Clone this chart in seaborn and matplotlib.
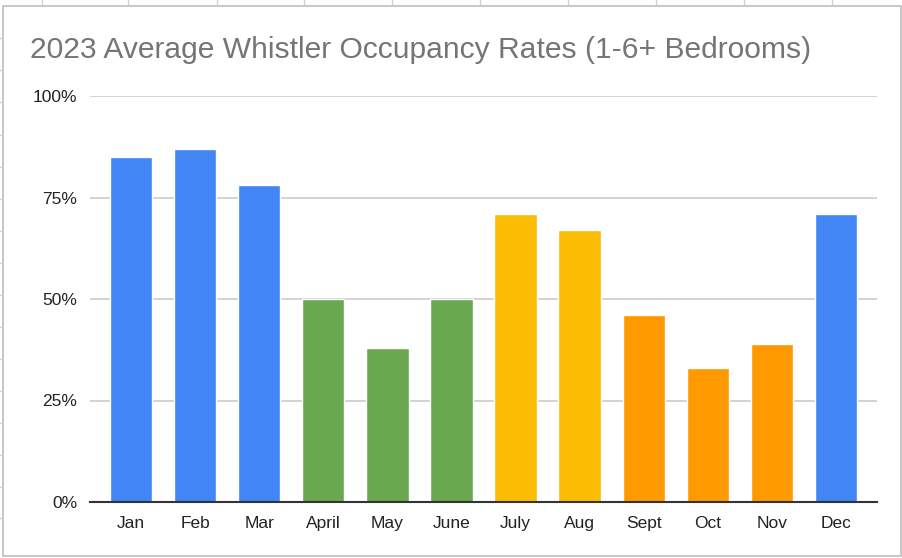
import numpy as np
import pandas as pd
import matplotlib
matplotlib.use("Agg")
import matplotlib.pyplot as plt
import seaborn as sb
from matplotlib.lines import Line2D
from matplotlib.patches import Rectangle

months = ["Jan", "Feb", "Mar", "April", "May", "June", "July", "Aug", "Sept", "Oct", "Nov", "Dec"]
occupancy = [85, 87, 78, 50, 38, 50, 71, 67, 46, 33, 39, 71]
bar_colors = ["#4285F4", "#4285F4", "#4285F4", "#6AA84F", "#6AA84F", "#6AA84F",
              "#FBBC04", "#FBBC04", "#FF9900", "#FF9900", "#FF9900", "#4285F4"]
yticks = [0, 25, 50, 75, 100]
ytick_labels = ["0%", "25%", "50%", "75%", "100%"]

df = pd.DataFrame({"month": months, "occ": occupancy})

sb.set_style("white")
plt.rcParams["font.family"] = ["Liberation Sans", "DejaVu Sans"]

fig = plt.figure(figsize=(9.03, 5.58), dpi=100)
ax = fig.add_axes([90 / 903, 56 / 558, 787 / 903, 406 / 558])

sb.barplot(df, x="month", y="occ", hue="month", palette=bar_colors, legend=False,
           width=0.66, saturation=1, ax=ax, zorder=3)

ax.set_xlim(-0.64, 11.64)
ax.set_ylim(0, 100)
ax.set_yticks(yticks)
ax.set_yticklabels(ytick_labels)
ax.set_xlabel("")
ax.set_ylabel("")
ax.grid(axis="y", color="#cccccc", linewidth=1.2, zorder=0)
for s in ["left", "right", "top"]:
    ax.spines[s].set_visible(False)
ax.spines["bottom"].set_color("#333333")
ax.spines["bottom"].set_linewidth(1.5)
ax.spines["bottom"].set_zorder(4)
ax.tick_params(axis="both", length=0, labelsize=12.5, colors="#222222")
ax.tick_params(axis="y", pad=9)
ax.tick_params(axis="x", pad=10)

fig.text(30 / 903, 1 - 50 / 558, "2023 Average Whistler Occupancy Rates (1-6+ Bedrooms)",
         fontsize=21.6, color="#757575", va="center", ha="left")

# sheet frame and a bit of the spreadsheet grid around it
W, H = 903, 558
fig.add_artist(Rectangle((3 / W, 2 / H), 898 / W, 550 / H, transform=fig.transFigure,
                         fill=False, edgecolor="#bdbdbd", linewidth=1.2))
for x in [42, 128, 217, 304, 392, 480, 568, 656, 744, 832]:
    fig.add_artist(Line2D([x / W, x / W], [1 - 4 / H, 1], color="#d0d0d0", linewidth=1))
for y in [38, 70, 102, 135, 167, 199, 231, 263, 295, 327, 359, 391, 423, 455, 487, 518]:
    fig.add_artist(Line2D([0, 3 / W], [1 - y / H, 1 - y / H], color="#d0d0d0", linewidth=1))

fig.savefig("out.png", dpi=100)
